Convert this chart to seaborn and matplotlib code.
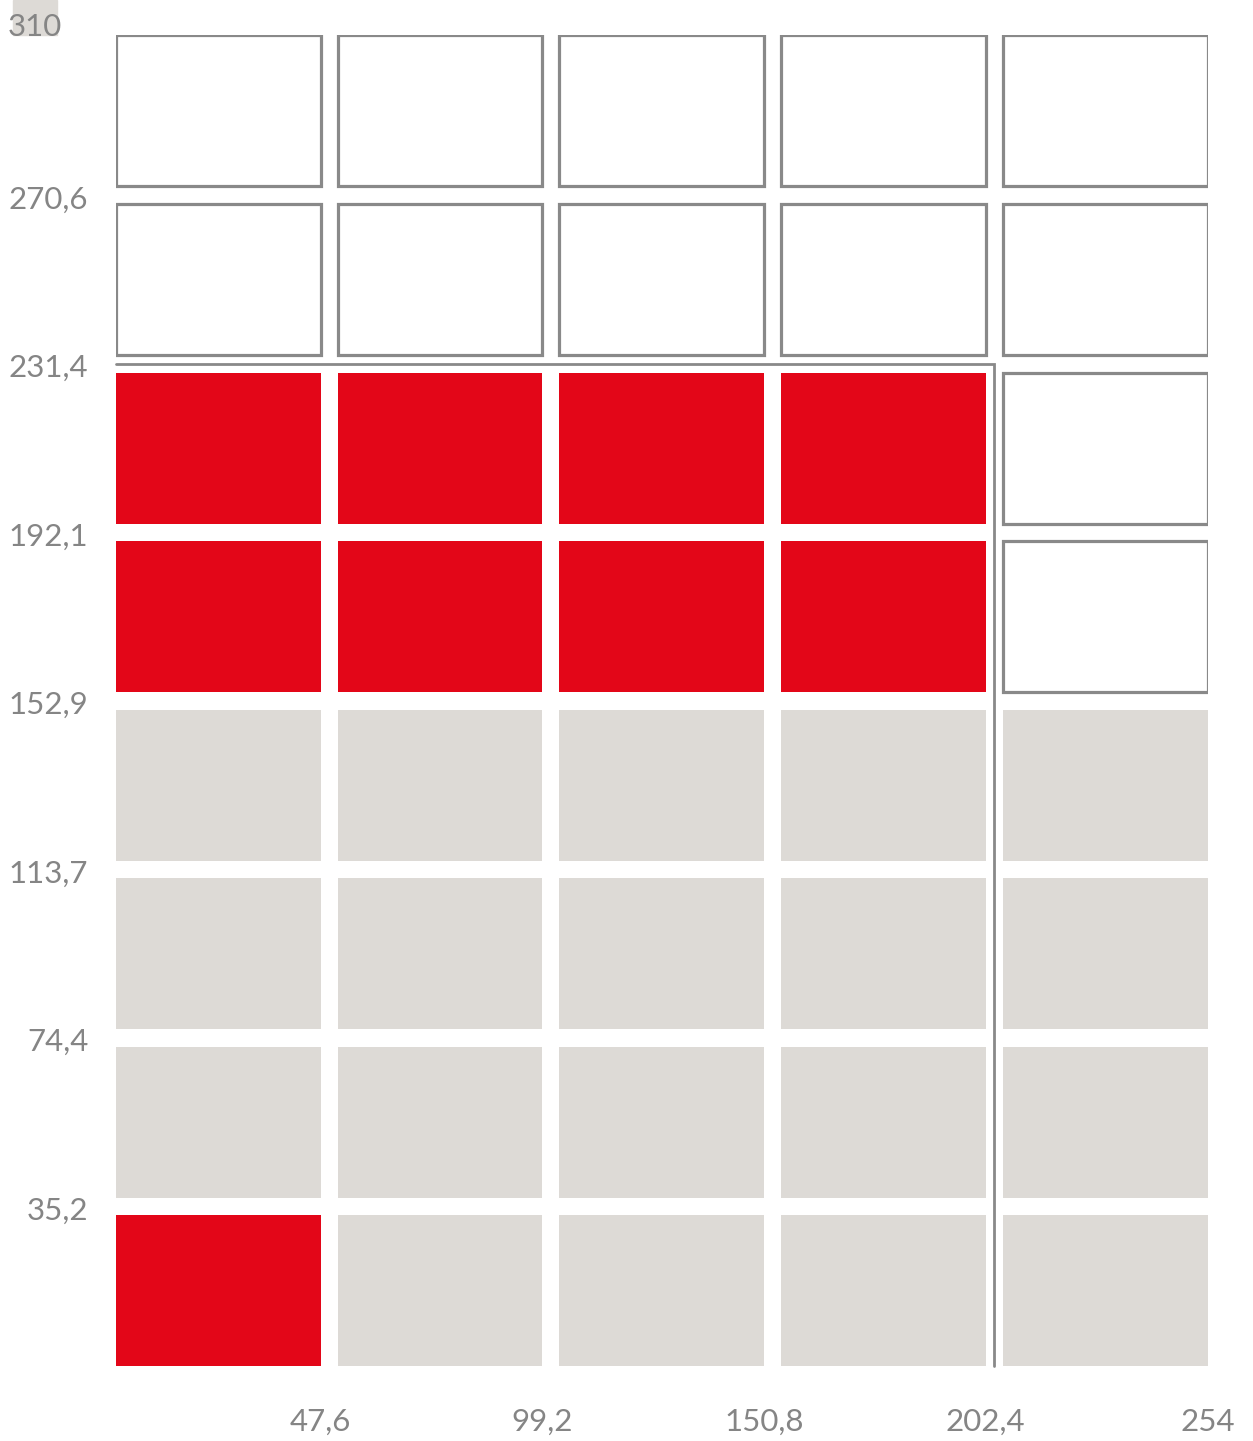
import matplotlib.pyplot as plt
import matplotlib.transforms as mtransforms
import pandas as pd
import seaborn as sns
from matplotlib.patches import Rectangle

# Grid edges (right edges of columns, top edges of rows)
x_edges = [47.6, 99.2, 150.8, 202.4, 254]
y_edges = [35.2, 74.4, 113.7, 152.9, 192.1, 231.4, 270.6, 310]
x_labels = ["47,6", "99,2", "150,8", "202,4", "254"]
y_labels = ["35,2", "74,4", "113,7", "152,9", "192,1", "231,4", "270,6", "310"]
cell_w = 47.6
cell_h = 35.2

# cell state per row, bottom row first: r = red, g = grey, o = outline
row_states = [
    "rgggg",
    "ggggg",
    "ggggg",
    "ggggg",
    "rrrro",
    "rrrro",
    "ooooo",
    "ooooo",
]

# outlined region (width x height)
frame_w = 204.4
frame_h = 233.4

RED = "#e30618"
GREY = "#dddad6"
EDGE = "#898989"
TEXT = "#858585"

cells = pd.DataFrame(
    [
        {"x": xr - cell_w, "y": yt - cell_h, "state": s}
        for yt, row in zip(y_edges, row_states)
        for xr, s in zip(x_edges, row)
    ]
)

sns.set_theme(style="white")
plt.rcParams["font.family"] = ["Lato", "DejaVu Sans"]

fig = plt.figure(figsize=(12.53, 14.41), dpi=100)
ax = fig.add_axes([0.0926, 0.0520, 0.8711, 0.9237])

for state, sub in cells.groupby("state"):
    if state == "o":
        ax.bar(sub["x"], cell_h, width=cell_w, bottom=sub["y"], align="edge",
               color="white", edgecolor=EDGE, linewidth=2.3)
    else:
        ax.bar(sub["x"], cell_h, width=cell_w, bottom=sub["y"], align="edge",
               color=RED if state == "r" else GREY, linewidth=0)

# L-shaped frame
ax.plot([0, frame_w, frame_w], [frame_h, frame_h, 0], color=EDGE,
        linewidth=2, solid_joinstyle="miter", clip_on=False)

ax.set_xlim(0, 254)
ax.set_ylim(0, 310)
sns.despine(ax=ax, left=True, bottom=True)

ax.set_xticks(x_edges)
ax.set_xticklabels(x_labels)
ax.set_yticks(y_edges)
ax.set_yticklabels(y_labels)
ax.tick_params(axis="x", length=0, pad=30, labelsize=22.5, labelcolor=TEXT)
ax.tick_params(axis="y", length=0, pad=20, labelsize=22.5, labelcolor=TEXT)
shift = mtransforms.ScaledTranslation(0, 5 / 72, fig.dpi_scale_trans)
for lbl in ax.get_yticklabels():
    lbl.set_transform(lbl.get_transform() + shift)
# top label sits further left, over the swatch
top_shift = mtransforms.ScaledTranslation(-26 / 100, 4 / 100, fig.dpi_scale_trans)
top_lbl = ax.get_yticklabels()[-1]
top_lbl.set_transform(top_lbl.get_transform() + top_shift)

# grey swatch behind the top label
fig.patches.append(Rectangle((13 / 1253, 1 - 35 / 1441), 44 / 1253, 35 / 1441,
                             transform=fig.transFigure, color=GREY, zorder=-1))

fig.savefig("out.png", dpi=100)
